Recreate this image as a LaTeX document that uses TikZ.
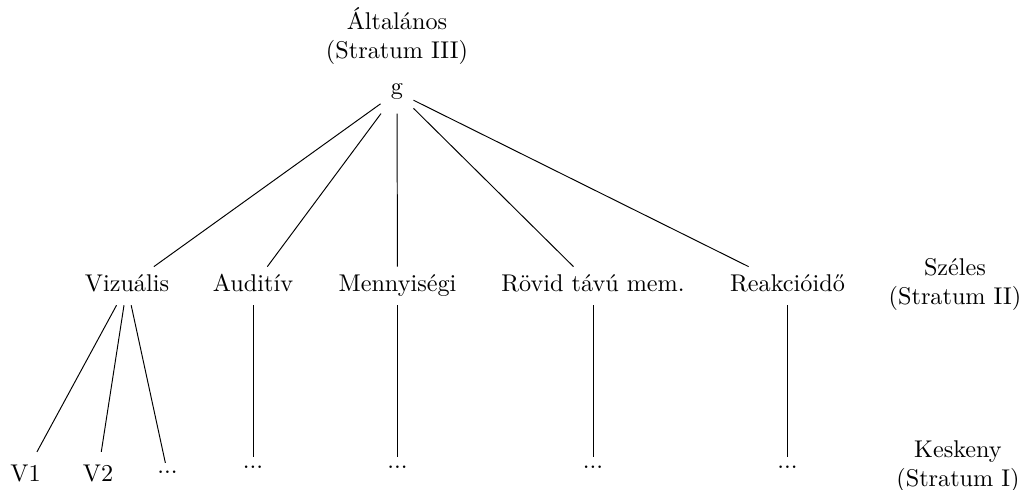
\documentclass[tikz,border=0pt]{standalone}
\usepackage{fontspec}
\begin{document}
\begin{tikzpicture}[x=0.413pt,y=-0.413pt,
  topnode/.style={inner xsep=4.1pt, inner ysep=5.4pt, anchor=base},
  midnode/.style={text height=6.94pt, text depth=1.94pt, inner sep=3.33pt, anchor=base},
  leafV/.style={inner xsep=3.33pt, inner ysep=5pt, anchor=base},
  leafdots/.style={inner sep=3.33pt, anchor=base},
  lbl/.style={align=center, inner sep=0pt, anchor=base},
  conn/.style={line width=0.4pt}]
\useasboundingbox (0,0) rectangle (1024,490);
% labels (anchor base = baseline of the last line)
\node[lbl] (top) at (397,59) {Általános\\(Stratum III)};
\node[lbl] (broad) at (955,305) {Széles\\(Stratum II)};
\node[lbl] (narrow) at (958,487) {Keskeny\\(Stratum I)};
% root
\node[topnode] (g) at (397,95) {g};
% level 2
\node[midnode] (viz) at (127,292) {Vizuális};
\node[midnode] (aud) at (253,292) {Auditív};
\node[midnode] (men) at (397.5,292) {Mennyiségi};
\node[midnode] (rov) at (593,292) {Rövid távú mem.};
\node[midnode] (rea) at (787.5,292) {Reakcióidő};
% level 3
\node[leafV] (v1) at (25.5,481) {V1};
\node[leafV] (v2) at (98,481) {V2};
\node[leafdots] (vd) at (167.5,474) {...};
\node[leafdots] (ad) at (253,468) {...};
\node[leafdots] (md) at (397.5,468) {...};
\node[leafdots] (rd) at (593,468) {...};
\node[leafdots] (ed) at (787.5,468) {...};
% connectors
\draw[conn] (g) -- (viz);
\draw[conn] (g) -- (aud);
\draw[conn] (g) -- (men);
\draw[conn] (g) -- (rov);
\draw[conn] (g) -- (rea);
\draw[conn] (viz) -- (v1);
\draw[conn] (viz) -- (v2);
\draw[conn] (viz) -- (vd);
\draw[conn] (aud) -- (ad);
\draw[conn] (men) -- (md);
\draw[conn] (rov) -- (rd);
\draw[conn] (rea) -- (ed);
\end{tikzpicture}
\end{document}
